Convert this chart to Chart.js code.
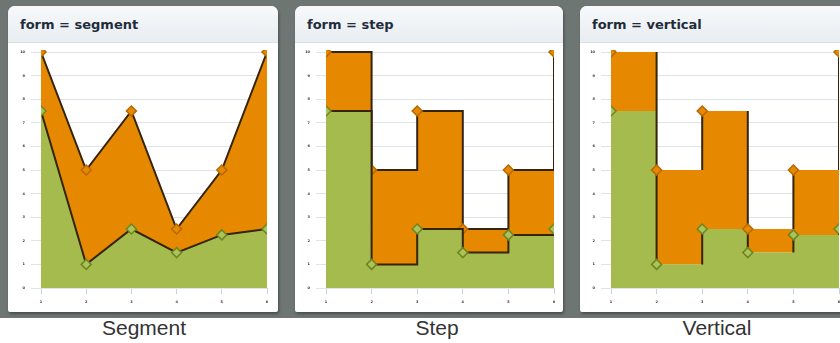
<!DOCTYPE html>
<html>
<head>
<meta charset="utf-8">
<title>Line forms</title>
<script src="https://cdn.jsdelivr.net/npm/chart.js@4.4.1/dist/chart.umd.min.js"></script>
<style>
  html, body { margin: 0; padding: 0; }
  body {
    width: 840px; height: 343px; overflow: hidden; position: relative;
    background: #ffffff; font-family: "Liberation Sans", Arial, sans-serif;
  }
  #backdrop { position: absolute; left: 0; top: 0; width: 840px; height: 318px; background: #6e7674; }
  .panel {
    position: absolute; top: 6px; height: 306px; background: #ffffff;
    border-radius: 7px 7px 2px 2px; overflow: hidden;
    box-shadow: 1px 2px 3px rgba(0, 0, 0, 0.35);
  }
  .head {
    height: 37px; box-sizing: border-box; padding: 2px 0 0 12px;
    border-bottom: 1px solid #d8dfe7;
    background: linear-gradient(#f7f9fb, #e8edf2);
    font: bold 13px "DejaVu Sans", sans-serif; line-height: 34px;
    color: #1f2d3b; white-space: nowrap;
  }
  .panel canvas { position: absolute; left: 0; top: 37px; }
  .cap {
    position: absolute; top: 317px; font-size: 21px; line-height: 21px; color: #333333;
    transform: translateX(-50%); white-space: nowrap;
  }
</style>
</head>
<body>
<div id="backdrop"></div>

<div class="panel" style="left:8px;width:270px;">
  <div class="head">form = segment</div>
  <canvas id="segmentChart" width="270" height="269"></canvas>
</div>
<div class="panel" style="left:295px;width:268px;">
  <div class="head">form = step</div>
  <canvas id="stepChart" width="268" height="269"></canvas>
</div>
<div class="panel" style="left:580px;width:275px;">
  <div class="head">form = vertical</div>
  <canvas id="verticalChart" width="270" height="269"></canvas>
</div>

<div class="cap" style="left:144px;">Segment</div>
<div class="cap" style="left:437px;">Step</div>
<div class="cap" style="left:717px;">Vertical</div>

<script>
// Shared data for all three line forms
const categories = ['1', '2', '3', '4', '5', '6'];
const lowerSeries = [7.5, 1, 2.5, 1.5, 2.25, 2.5];   // green band
const upperSeries = [2.5, 4, 5, 1, 2.75, 7.5];       // orange band, stacked on green
const yTicks = [0, 1, 2, 3, 4, 5, 6, 7, 8, 9, 10];

const GREEN = '#a5bb4d';
const GREEN_EDGE = '#6c8624';
const GREEN_MARK = '#adc35a';
const ORANGE = '#e68900';
const ORANGE_EDGE = '#b86800';
const LINE = '#33240a';
const GRID = '#dde4eb';

// Draws only the vertical risers of a stepped series
const verticalRisers = {
  id: 'verticalRisers',
  beforeDatasetsDraw(chart) {
    const { ctx, chartArea: a } = chart;
    ctx.save();
    ctx.beginPath();
    ctx.rect(a.left, a.top - 2, a.right - a.left, a.bottom - a.top + 2);
    ctx.clip();
    ctx.strokeStyle = LINE;
    ctx.lineWidth = 2;
    ctx.lineCap = 'butt';
    ctx.beginPath();
    chart.getSortedVisibleDatasetMetas().forEach(meta => {
      const pts = meta.data;
      for (let i = 1; i < pts.length; i++) {
        ctx.moveTo(pts[i].x, pts[i - 1].y);
        ctx.lineTo(pts[i].x, pts[i].y);
      }
    });
    ctx.stroke();
    ctx.restore();
  }
};

function makeChart(id, form, axisWidth, padRight) {
  const stepped = form !== 'segment';
  const lineWidth = form === 'vertical' ? 0 : 2;
  const lineColor = form === 'vertical' ? 'rgba(0,0,0,0)' : LINE;
  const clip = { left: 0, top: 2, right: 0, bottom: 0 };

  const datasets = [
    {
      label: 'lower',
      data: lowerSeries,
      backgroundColor: GREEN,
      borderColor: lineColor,
      borderWidth: lineWidth,
      fill: 'origin',
      stepped: stepped,
      tension: 0,
      pointStyle: 'rectRot',
      pointRadius: 5,
      pointBorderWidth: 1.5,
      pointBackgroundColor: GREEN_MARK,
      pointBorderColor: GREEN_EDGE,
      clip: clip
    },
    {
      label: 'upper',
      data: upperSeries,
      backgroundColor: ORANGE,
      borderColor: lineColor,
      borderWidth: lineWidth,
      fill: '-1',
      stepped: stepped,
      tension: 0,
      pointStyle: 'rectRot',
      pointRadius: 5,
      pointBorderWidth: 1.5,
      pointBackgroundColor: ORANGE,
      pointBorderColor: ORANGE_EDGE,
      clip: clip
    }
  ];

  const tickFont = { family: 'DejaVu Sans', size: 3.5, weight: 'bold' };

  return new Chart(document.getElementById(id), {
    type: 'line',
    data: { labels: categories, datasets: datasets },
    plugins: form === 'vertical' ? [verticalRisers] : [],
    options: {
      responsive: false,
      animation: false,
      devicePixelRatio: 1,
      layout: { padding: { top: 9, right: padRight, left: 0, bottom: 0 } },
      plugins: {
        legend: { display: false },
        tooltip: { enabled: false },
        filler: { drawTime: form === 'vertical' ? 'beforeDatasetsDraw' : 'beforeDatasetDraw' }
      },
      scales: {
        x: {
          offset: false,
          border: { display: false },
          grid: { drawOnChartArea: false, drawTicks: true, tickLength: 6, color: '#c9d1d9' },
          ticks: { font: tickFont, color: '#333', padding: 6, maxRotation: 0, autoSkip: false },
          afterFit(scale) { scale.height = 24; }
        },
        y: {
          stacked: true,
          min: yTicks[0],
          max: yTicks[yTicks.length - 1],
          border: { display: false },
          grid: { color: GRID, lineWidth: 1, drawTicks: true, tickLength: 10 },
          afterBuildTicks(scale) { scale.ticks = yTicks.map(v => ({ value: v })); },
          ticks: { font: tickFont, color: '#333', padding: 6 },
          afterFit(scale) { scale.width = axisWidth; }
        }
      }
    }
  });
}

makeChart('segmentChart', 'segment', 33, 11);
makeChart('stepChart', 'step', 31, 9);
makeChart('verticalChart', 'vertical', 31, 11);
</script>
</body>
</html>
